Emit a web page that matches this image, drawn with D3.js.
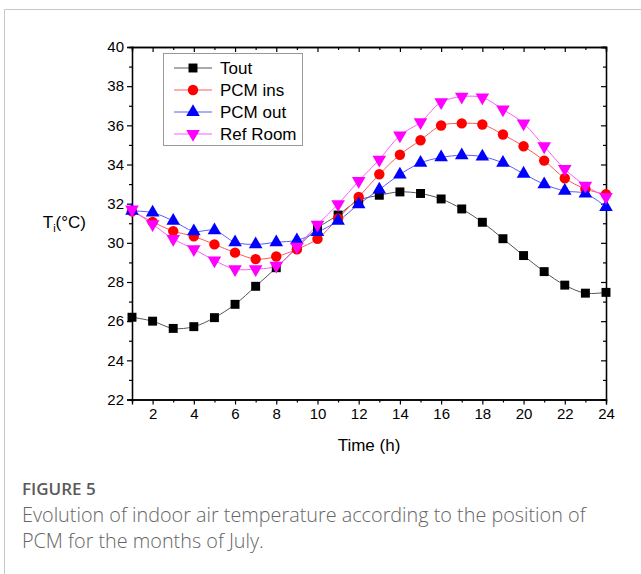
<!DOCTYPE html>
<html><head><meta charset="utf-8">
<script src="https://cdn.jsdelivr.net/npm/d3@7"></script>
<style>body{margin:0;background:#fff;}svg{display:block;}
.ax text{font-family:'Liberation Sans',Arial,sans-serif;font-size:15px;fill:#000;}
</style>
</head><body>
<svg id="c" width="641" height="574"></svg>
<script>
const hours = d3.range(1, 25);
const tout = [26.2, 26.0, 25.63, 25.72, 26.18, 26.86, 27.78, 28.73, 29.75, 30.75, 31.42, 32.17, 32.43, 32.6, 32.52, 32.24, 31.73, 31.05, 30.21, 29.35, 28.53, 27.84, 27.43, 27.47];
const pcmIns = [31.61, 31.07, 30.6, 30.33, 29.92, 29.5, 29.17, 29.3, 29.67, 30.2, 31.25, 32.34, 33.5, 34.5, 35.24, 35.99, 36.1, 36.04, 35.53, 34.93, 34.2, 33.3, 32.75, 32.48];
const pcmOut = [31.63, 31.54, 31.12, 30.59, 30.64, 30.03, 29.92, 30.03, 30.13, 30.55, 31.12, 31.97, 32.72, 33.49, 34.08, 34.36, 34.47, 34.4, 34.08, 33.53, 32.99, 32.65, 32.52, 31.83];
const refRoom = [31.7, 30.95, 30.2, 29.68, 29.1, 28.66, 28.66, 28.83, 29.8, 30.93, 31.97, 33.16, 34.25, 35.48, 36.16, 37.18, 37.46, 37.42, 36.81, 36.1, 34.93, 33.77, 32.92, 32.34];
const xTicks = [2,4,6,8,10,12,14,16,18,20,22,24];
const yTicks = [22,24,26,28,30,32,34,36,38,40];
const seriesNames = ["Tout","PCM ins","PCM out","Ref Room"];

const series = [
  {name: seriesNames[0], vals: tout, line: "#555", fill: "#000", sym: d3.symbolSquare, size: 80, rot: 0},
  {name: seriesNames[1], vals: pcmIns, line: "#ff5a5a", fill: "#ff0000", sym: d3.symbolCircle, size: 85, rot: 0},
  {name: seriesNames[2], vals: pcmOut, line: "#5a5aff", fill: "#0000ff", sym: d3.symbolTriangle, size: 80, rot: 0},
  {name: seriesNames[3], vals: refRoom, line: "#ff5aff", fill: "#ff00ff", sym: d3.symbolTriangle, size: 80, rot: 180}
];

const svg = d3.select("#c");
const font = "Liberation Sans, Arial, sans-serif";

svg.append("line").attr("x1",4.5).attr("x2",4.5).attr("y1",9.5).attr("y2",574).attr("stroke","#c8c8c8");
svg.append("line").attr("x1",4.5).attr("x2",641).attr("y1",9.5).attr("y2",9.5).attr("stroke","#c8c8c8");

const L = 132, R = 606, T = 47, B = 399.5;
const x = d3.scaleLinear().domain([1,24]).range([L,R]);
const y = d3.scaleLinear().domain([22,40]).range([B,T]);

const g = svg.append("g");

function styleAxis(sel){
  sel.attr("class","ax").attr("font-size",null).attr("font-family",null);
  sel.selectAll("path").attr("stroke","#000").attr("stroke-width",1.3);
  sel.selectAll("line").attr("stroke","#000").attr("stroke-width",1.2);
}
const oddH = d3.range(1,25,2);
const oddY = [23,25,27,29,31,33,35,37,39];
g.append("g").attr("transform",`translate(0,${B})`).call(d3.axisBottom(x).tickValues(oddH).tickSize(3).tickFormat("")).call(styleAxis);
g.append("g").attr("transform",`translate(${L},0)`).call(d3.axisLeft(y).tickValues(oddY).tickSize(3).tickFormat("")).call(styleAxis);
g.append("g").attr("transform",`translate(0,${T})`).call(d3.axisTop(x).tickValues(oddH).tickSize(-3).tickFormat("")).call(styleAxis);
g.append("g").attr("transform",`translate(${R},0)`).call(d3.axisRight(y).tickValues(oddY).tickSize(-3).tickFormat("")).call(styleAxis);
g.append("g").attr("transform",`translate(0,${B})`).call(d3.axisBottom(x).tickValues(xTicks).tickSize(5).tickPadding(4).tickFormat(d3.format("d"))).call(styleAxis);
g.append("g").attr("transform",`translate(${L},0)`).call(d3.axisLeft(y).tickValues(yTicks).tickSize(5).tickPadding(3).tickFormat(d3.format("d"))).call(styleAxis);
g.append("g").attr("transform",`translate(0,${T})`).call(d3.axisTop(x).tickValues(xTicks).tickSize(-5).tickFormat("")).call(styleAxis);
g.append("g").attr("transform",`translate(${R},0)`).call(d3.axisRight(y).tickValues(yTicks).tickSize(-5).tickFormat("")).call(styleAxis);

svg.append("text").attr("x",(L+R)/2).attr("y",451).attr("text-anchor","middle")
  .style("font-family",font).style("font-size","17px").text("Time (h)");
const yl = svg.append("text").attr("x",86).attr("y",228).attr("text-anchor","end").style("font-family",font).style("font-size","17px");
yl.append("tspan").text("T");
yl.append("tspan").style("font-size","11px").attr("dy",4).text("i");
yl.append("tspan").attr("dy",-4).text("(°C)");

const line = d3.line().x((d,i)=>x(hours[i])).y(d=>y(d)).curve(d3.curveCatmullRom.alpha(0.5));
series.forEach(s=>{
  g.append("path").attr("d",line(s.vals)).attr("fill","none").attr("stroke",s.line).attr("stroke-width",1);
});
series.forEach(s=>{
  const sym = d3.symbol().type(s.sym).size(s.size);
  g.selectAll(null).data(s.vals).enter().append("path")
    .attr("d",sym)
    .attr("transform",(d,i)=>`translate(${x(hours[i])},${y(d)}) rotate(${s.rot})`)
    .attr("fill",s.fill);
});

const lg = svg.append("g");
lg.append("rect").attr("x",163.5).attr("y",53.5).attr("width",139).attr("height",92).attr("fill","#fff").attr("stroke","#999").attr("stroke-width",1);
series.forEach((s,i)=>{
  const yy = 68 + i*22;
  lg.append("line").attr("x1",174).attr("x2",212).attr("y1",yy).attr("y2",yy).attr("stroke",s.line).attr("stroke-width",1);
  lg.append("path").attr("d",d3.symbol().type(s.sym).size(s.size)()).attr("transform",`translate(193,${yy}) rotate(${s.rot})`).attr("fill",s.fill);
  lg.append("text").attr("x",220).attr("y",yy+6).style("font-family",font).style("font-size","17px").text(s.name);
});

const cf = "Open Sans, Noto Sans, sans-serif";
svg.append("text").attr("x",22).attr("y",495).style("font-family",cf).style("font-size","17px").style("font-weight","600").attr("fill","#5a5a5a").text("FIGURE 5");
const c1 = svg.append("text").attr("x",22).attr("y",522).style("font-family",cf).style("font-size","17px").style("font-weight","300").attr("fill","#666").text("Evolution of indoor air temperature according to the position of");
const c2 = svg.append("text").attr("x",22).attr("y",548).style("font-family",cf).style("font-size","17px").style("font-weight","300").attr("fill","#666").text("PCM for the months of July.");
const w = c1.node().getComputedTextLength();
const fs = 17 * 564 / w;
c1.style("font-size", fs + "px");
c2.style("font-size", fs + "px");
</script>
</body></html>
